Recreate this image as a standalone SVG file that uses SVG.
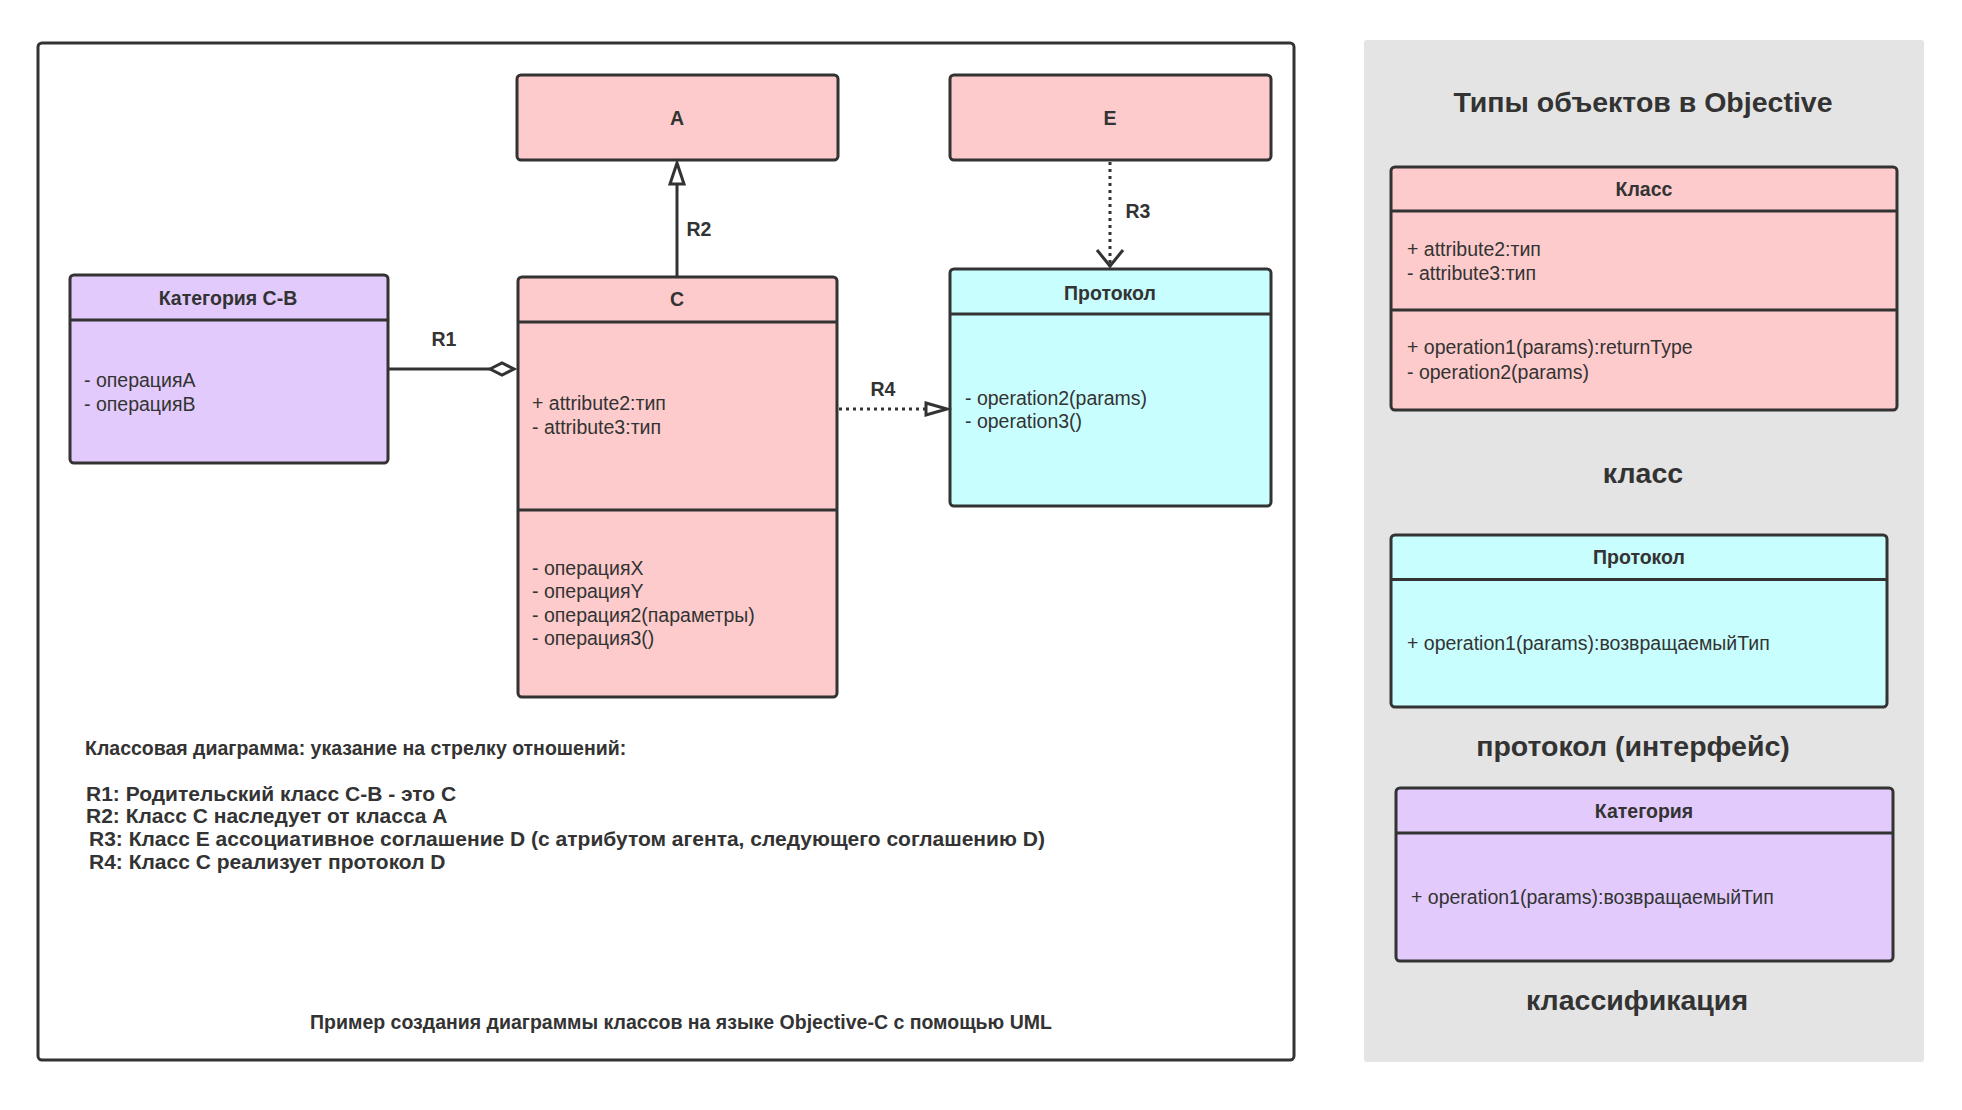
<svg xmlns="http://www.w3.org/2000/svg" width="1962" height="1110" viewBox="0 0 1962 1110">
<defs>
<style>
.box{stroke:#333;stroke-width:3;}
.pink{fill:#fdcbcb;}
.cyan{fill:#c9fefe;}
.purple{fill:#e2cbfc;}
.sep{stroke:#333;stroke-width:3;fill:none;}
text{font-family:"Liberation Sans",Arial,sans-serif;fill:#333;}
.h{font-weight:bold;font-size:19.5px;text-anchor:middle;}
.b{font-size:19.5px;}
.lbl{font-weight:bold;font-size:19.5px;text-anchor:middle;}
.big{font-weight:bold;font-size:28.5px;text-anchor:middle;}
.note{font-weight:bold;font-size:21px;}
.conn{stroke:#333;stroke-width:3;fill:none;}
.dot{stroke:#333;stroke-width:3;fill:none;stroke-dasharray:3 4;}
.head{stroke:#333;stroke-width:3;fill:#fff;stroke-linejoin:miter;}
</style>
</defs>
<rect width="1962" height="1110" fill="#fff"/>
<g id="frame">
<rect x="38" y="43" width="1256" height="1017" rx="4" fill="#fff" stroke="#333" stroke-width="3"/>
</g>
<g id="node-A">
<rect class="box pink" x="517" y="75" width="321" height="85" rx="4"/>
<text class="lbl" x="677" y="125">A</text>
</g>
<g id="node-E">
<rect class="box pink" x="950" y="75" width="321" height="85" rx="4"/>
<text class="lbl" x="1110" y="125">E</text>
</g>
<g id="node-CB">
<rect class="box purple" x="70" y="275" width="318" height="188" rx="4"/>
<line class="sep" x1="70" y1="320" x2="388" y2="320"/>
<text class="h" x="228" y="305">Категория C-B</text>
<text class="b" x="84" y="386.5">- операцияA</text>
<text class="b" x="84" y="411">- операцияB</text>
</g>
<g id="node-C">
<rect class="box pink" x="518" y="277" width="319" height="420" rx="4"/>
<line class="sep" x1="518" y1="322" x2="837" y2="322"/>
<line class="sep" x1="518" y1="510" x2="837" y2="510"/>
<text class="h" x="677" y="306">C</text>
<text class="b" x="532" y="410">+ attribute2:тип</text>
<text class="b" x="532" y="434">- attribute3:тип</text>
<text class="b" x="532" y="574.5">- операцияX</text>
<text class="b" x="532" y="598">- операцияY</text>
<text class="b" x="532" y="621.5">- операция2(параметры)</text>
<text class="b" x="532" y="645">- операция3()</text>
</g>
<g id="node-protocol">
<rect class="box cyan" x="950" y="269" width="321" height="237" rx="4"/>
<line class="sep" x1="950" y1="314" x2="1271" y2="314"/>
<text class="h" x="1110" y="299.5">Протокол</text>
<text class="b" x="965" y="404.5">- operation2(params)</text>
<text class="b" x="965" y="428">- operation3()</text>
</g>
<g id="connectors">
<line class="conn" x1="388" y1="369" x2="490" y2="369"/>
<polygon class="head" points="490,369 502,363 514,369 502,375"/>
<text class="lbl" x="444" y="346">R1</text>
<line class="conn" x1="677" y1="277" x2="677" y2="184"/>
<polygon class="head" points="677,163 684,184 670,184"/>
<text class="lbl" x="699" y="236">R2</text>
<line class="dot" x1="1110" y1="162" x2="1110" y2="264"/>
<polyline class="conn" points="1097,250 1110,266 1123,250"/>
<text class="lbl" x="1138" y="218">R3</text>
<line class="dot" x1="839" y1="409" x2="926" y2="409"/>
<polygon class="head" points="926,403 947,409 926,415"/>
<text class="lbl" x="883" y="396">R4</text>
</g>
<g id="notes">
<text class="note" x="85" y="755" style="font-size:19.5px">Классовая диаграмма: указание на стрелку отношений:</text>
<text class="note" x="86" y="800.5">R1: Родительский класс C-B - это C</text>
<text class="note" x="86" y="823">R2: Класс C наследует от класса A</text>
<text class="note" x="89" y="846">R3: Класс E ассоциативное соглашение D (с атрибутом агента, следующего соглашению D)</text>
<text class="note" x="89" y="868.5">R4: Класс C реализует протокол D</text>
<text class="lbl" x="681" y="1029">Пример создания диаграммы классов на языке Objective-C с помощью UML</text>
</g>
<g id="legend">
<rect x="1364" y="40" width="560" height="1022" rx="3" fill="#e4e4e4"/>
<text class="big" x="1643" y="112">Типы объектов в Objective</text>
<g id="legend-class">
<rect class="box pink" x="1391" y="167" width="506" height="243" rx="4"/>
<line class="sep" x1="1391" y1="211" x2="1897" y2="211"/>
<line class="sep" x1="1391" y1="310" x2="1897" y2="310"/>
<text class="h" x="1644" y="196">Класс</text>
<text class="b" x="1407" y="255.5">+ attribute2:тип</text>
<text class="b" x="1407" y="280">- attribute3:тип</text>
<text class="b" x="1407" y="354">+ operation1(params):returnType</text>
<text class="b" x="1407" y="379">- operation2(params)</text>
</g>
<text class="big" x="1643" y="483">класс</text>
<g id="legend-protocol">
<rect class="box cyan" x="1391" y="535" width="496" height="172" rx="4"/>
<line class="sep" x1="1391" y1="579.5" x2="1887" y2="579.5"/>
<text class="h" x="1639" y="564">Протокол</text>
<text class="b" x="1407" y="650">+ operation1(params):возвращаемыйТип</text>
</g>
<text class="big" x="1633" y="756">протокол (интерфейс)</text>
<g id="legend-category">
<rect class="box purple" x="1396" y="788" width="497" height="173" rx="4"/>
<line class="sep" x1="1396" y1="833" x2="1893" y2="833"/>
<text class="h" x="1644" y="818">Категория</text>
<text class="b" x="1411" y="904">+ operation1(params):возвращаемыйТип</text>
</g>
<text class="big" x="1637" y="1010">классификация</text>
</g>
</svg>
